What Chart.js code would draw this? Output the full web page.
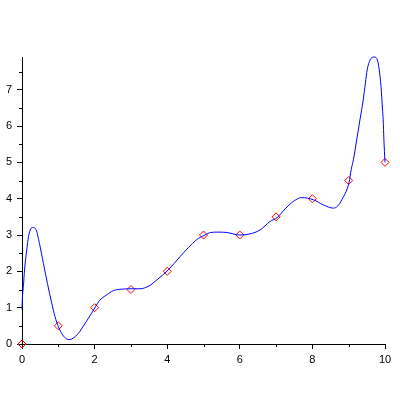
<!DOCTYPE html>
<html>
<head>
<meta charset="utf-8">
<script src="https://cdn.jsdelivr.net/npm/chart.js@4/dist/chart.umd.min.js"></script>
<style>
html,body{margin:0;padding:0;background:#fff;}
#wrap{width:400px;height:400px;}
</style>
</head>
<body>
<div id="wrap"><canvas id="c" width="400" height="400"></canvas></div>
<script>
// Data points (diamond markers)
const pointX = [0, 1, 2, 3, 4, 5, 6, 7, 8, 9, 10];
const pointY = [0, 0.5, 1, 1.5, 2, 3, 3, 3.5, 4, 4.5, 5];

// Curve
const curveX = [0, 0.01, 0.04, 0.07, 0.13, 0.18, 0.24, 0.29, 0.39, 0.48, 0.59, 0.70, 0.82, 0.91, 1.0, 1.12, 1.23, 1.30, 1.41, 1.55, 1.74, 1.92, 2.13, 2.33, 2.52, 2.75, 3.0, 3.25, 3.5, 3.71, 4.03, 4.35, 4.81, 5.04, 5.2, 5.4, 5.64, 6.0, 6.28, 6.56, 6.83, 7.03, 7.25, 7.47, 7.70, 8.03, 8.3, 8.58, 8.70, 8.81, 9.01, 9.07, 9.13, 9.22, 9.31, 9.40, 9.46, 9.51, 9.59, 9.70, 9.79, 9.84, 9.89, 9.93, 9.95, 9.97, 10.0];
const curveY = [0.95, 1.25, 1.6, 2.04, 2.59, 2.96, 3.17, 3.21, 3.14, 2.77, 2.22, 1.67, 1.12, 0.75, 0.48, 0.25, 0.14, 0.12, 0.16, 0.29, 0.57, 0.85, 1.19, 1.35, 1.47, 1.51, 1.52, 1.52, 1.6, 1.76, 2.04, 2.4, 2.87, 3.0, 3.07, 3.08, 3.07, 3.0, 3.03, 3.14, 3.37, 3.48, 3.72, 3.92, 4.03, 3.97, 3.83, 3.74, 3.80, 3.97, 4.45, 4.81, 5.07, 5.62, 6.17, 6.72, 7.18, 7.55, 7.82, 7.90, 7.82, 7.55, 7.09, 6.47, 6.17, 5.62, 5.0];

// Tick labels
const xTicks = [0, 2, 4, 6, 8, 10];
const yTicks = [0, 1, 2, 3, 4, 5, 6, 7];
const xMinor = [1, 3, 5, 7, 9];
const yMinor = [0.5, 1.5, 2.5, 3.5, 4.5, 5.5, 6.5, 7.5];

const minorTicks = {
  id: 'minorTicks',
  afterDraw(chart) {
    const ctx = chart.ctx;
    const xs = chart.scales.x, ys = chart.scales.y;
    const y0 = ys.getPixelForValue(0);
    const x0 = xs.getPixelForValue(0);
    ctx.save();
    ctx.strokeStyle = '#000';
    ctx.lineWidth = 1;
    ctx.beginPath();
    xMinor.forEach(v => {
      const px = Math.round(xs.getPixelForValue(v)) + 0.5;
      ctx.moveTo(px, y0);
      ctx.lineTo(px, y0 + 3);
    });
    yMinor.forEach(v => {
      const py = Math.round(ys.getPixelForValue(v)) + 0.5;
      ctx.moveTo(x0, py);
      ctx.lineTo(x0 - 3, py);
    });
    ctx.stroke();
    ctx.restore();
  }
};

new Chart(document.getElementById('c'), {
  type: 'scatter',
  data: {
    datasets: [
      {
        data: curveX.map((x, i) => ({x: x, y: curveY[i]})),
        showLine: true,
        borderColor: '#0000ff',
        borderWidth: 1,
        pointRadius: 0,
        cubicInterpolationMode: 'monotone',
        clip: false
      },
      {
        data: pointX.map((x, i) => ({x: x, y: pointY[i]})),
        showLine: false,
        pointStyle: 'rectRot',
        pointRadius: 4,
        pointBorderColor: '#ff0000',
        pointBackgroundColor: 'rgba(0,0,0,0)',
        pointBorderWidth: 1,
        clip: false
      }
    ]
  },
  options: {
    responsive: false,
    animation: false,
    events: [],
    layout: { padding: { top: 57, right: 15, left: 0, bottom: 0 } },
    plugins: { legend: { display: false }, tooltip: { enabled: false } },
    scales: {
      x: {
        type: 'linear',
        min: 0, max: 10,
        afterFit(s) { s.height = 56; },
        afterBuildTicks(s) { s.ticks = xTicks.map(v => ({value: v})); },
        grid: { drawOnChartArea: false, tickLength: 5, color: '#000', tickColor: '#000' },
        border: { display: true, color: '#000', width: 1 },
        ticks: { color: '#000', padding: 4, maxRotation: 0, autoSkip: false,
                 font: { family: 'Liberation Sans, Arial, sans-serif', size: 11 } }
      },
      y: {
        type: 'linear',
        min: 0, max: 7.9,
        afterFit(s) { s.width = 22; },
        afterBuildTicks(s) { s.ticks = yTicks.map(v => ({value: v})); },
        grid: { drawOnChartArea: false, tickLength: 5, color: '#000', tickColor: '#000' },
        border: { display: true, color: '#000', width: 1 },
        ticks: { color: '#000', padding: 5, autoSkip: false,
                 font: { family: 'Liberation Sans, Arial, sans-serif', size: 11 } }
      }
    }
  },
  plugins: [minorTicks]
});
</script>
</body>
</html>
